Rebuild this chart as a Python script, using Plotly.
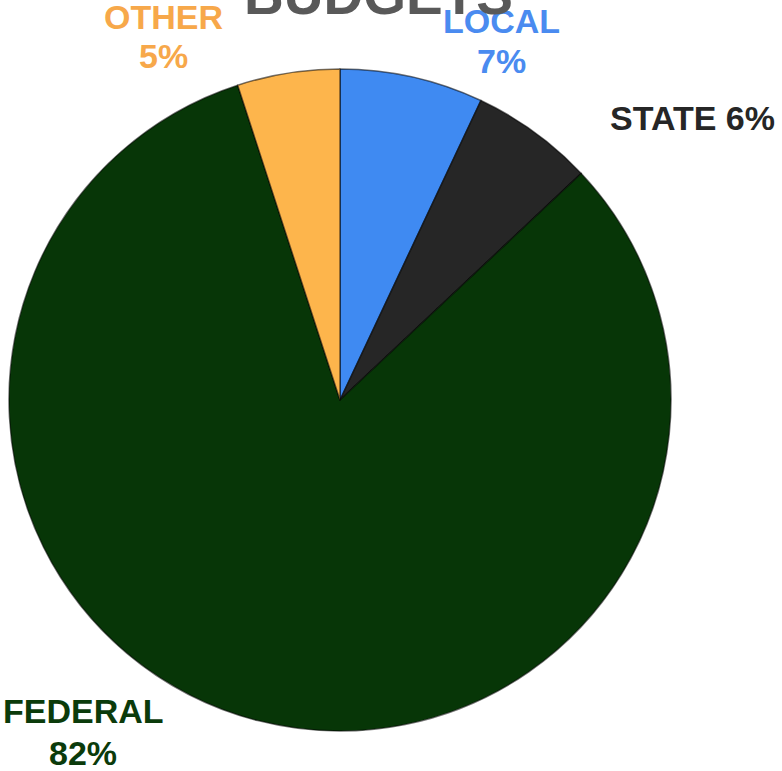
import plotly.graph_objects as go

categories = ["LOCAL", "STATE", "FEDERAL", "OTHER"]
values = [7, 6, 82, 5]
slice_colors = ["#3F8AF2", "#262626", "#073607", "#FDB54C"]
label_colors = ["#4A8BF0", "#262626", "#0B3B0B", "#F7A84A"]
title_text = "BUDGETS"

W, H = 782, 771

def px(x):
    return x / W

def py(y):
    return 1 - y / H

fig = go.Figure()
fig.add_trace(go.Pie(
    labels=categories,
    values=values,
    sort=False,
    direction="clockwise",
    rotation=0,
    textinfo="none",
    hoverinfo="label+percent",
    marker=dict(colors=slice_colors, line=dict(color="rgba(0,0,0,0.55)", width=1.5)),
    domain=dict(x=[px(9), px(671)], y=[py(731), py(69)]),
    showlegend=False,
))

# label placement: (x centre, y of first line, y of second line or None)
label_pos = {
    "LOCAL": (501, 21, 61),
    "STATE": (692, 118, None),
    "FEDERAL": (83, 711, 753),
    "OTHER": (163, 17, 56),
}
FONT = "Liberation Sans, Arial, sans-serif"
total = sum(values)
for cat, val, col in zip(categories, values, label_colors):
    x, y1, y2 = label_pos[cat]
    pct = f"{round(100 * val / total)}%"
    lines = [(cat, y1), (pct, y2)] if y2 is not None else [(f"{cat} {pct}", y1)]
    for txt, yy in lines:
        fig.add_annotation(
            x=px(x), y=py(yy), xref="paper", yref="paper",
            text=f"<b>{txt}</b>", showarrow=False,
            xanchor="center", yanchor="middle",
            font=dict(family=FONT, size=34, color=col),
        )

fig.add_annotation(
    x=px(378), y=py(-5), xref="paper", yref="paper",
    text=f"<b>{title_text}</b>", showarrow=False,
    xanchor="center", yanchor="middle",
    font=dict(family=FONT, size=55, color="#595959"),
)

fig.update_layout(
    width=W, height=H,
    margin=dict(l=0, r=0, t=0, b=0),
    paper_bgcolor="white",
    plot_bgcolor="white",
)

fig.write_html(
    "out.html",
    config={"displayModeBar": False},
    post_script="document.body.style.margin='0';document.body.style.overflow='hidden';",
)
